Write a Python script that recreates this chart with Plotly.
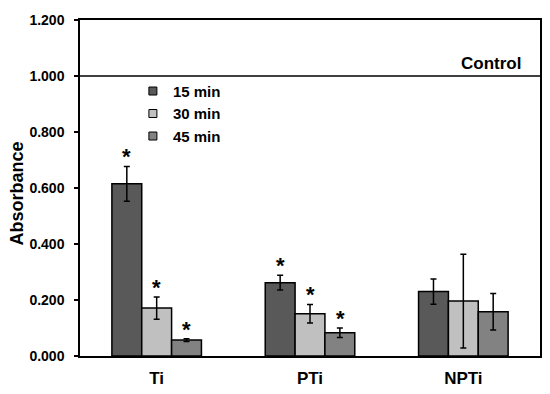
import plotly.graph_objects as go

categories = ["Ti", "PTi", "NPTi"]
series_names = ["15 min", "30 min", "45 min"]
values = {
    "15 min": [0.615, 0.262, 0.230],
    "30 min": [0.171, 0.151, 0.196],
    "45 min": [0.057, 0.083, 0.158],
}
errors = {
    "15 min": [0.062, 0.026, 0.045],
    "30 min": [0.040, 0.033, 0.167],
    "45 min": [0.005, 0.017, 0.065],
}
significant = {
    "15 min": [True, True, False],
    "30 min": [True, True, False],
    "45 min": [True, True, False],
}
colors = {"15 min": "#595959", "30 min": "#c0c0c0", "45 min": "#828282"}
control_value = 1.0
y_ticks = [0, 0.2, 0.4, 0.6, 0.8, 1.0, 1.2]
y_title = "Absorbance"

FONT = "Liberation Sans, Arial, sans-serif"

fig = go.Figure()
for name in series_names:
    fig.add_trace(go.Bar(
        x=categories, y=values[name], name=name, showlegend=False,
        marker=dict(color=colors[name], line=dict(color="black", width=1.5)),
        error_y=dict(type="data", array=errors[name], color="black",
                     thickness=1.5, width=3),
    ))
# legend entries (small squares like the reference)
for name in series_names:
    fig.add_trace(go.Scatter(
        x=[None], y=[None], mode="markers", name=name, legendgroup=name,
        marker=dict(symbol="square", size=8, color=colors[name],
                    line=dict(color="black", width=1)),
    ))

bar_px = 30
for i, name in enumerate(series_names):
    shift = (i - 1) * bar_px
    for j, cat in enumerate(categories):
        if significant[name][j]:
            fig.add_annotation(
                x=cat, y=values[name][j] + errors[name][j], xref="x", yref="y",
                text="<b>*</b>", showarrow=False, xshift=shift, yanchor="bottom",
                yshift=-5, font=dict(size=22, color="black", family=FONT),
            )

fig.add_shape(type="line", xref="paper", yref="y", x0=0, x1=1,
              y0=control_value, y1=control_value,
              line=dict(color="black", width=1.5))
fig.add_annotation(x=0.963, y=control_value, xref="paper", yref="y",
                   text="<b>Control</b>", showarrow=False, xanchor="right",
                   yanchor="bottom", yshift=1,
                   font=dict(size=17, color="black", family=FONT))

# y-axis title as rotated text left of the tick labels
fig.add_annotation(x=-0.136, y=0.485, xref="paper", yref="paper",
                   text=f"<b>{y_title}</b>", showarrow=False, textangle=-90,
                   xanchor="center", yanchor="middle",
                   font=dict(size=18, color="black", family=FONT))

# page body has an 8px margin: compensate so the plot box sits where the reference has it
fig.update_layout(
    width=542, height=386,
    margin=dict(l=72, r=10, t=12, b=38, autoexpand=False),
    paper_bgcolor="white", plot_bgcolor="white",
    barmode="group", bargap=0.416, bargroupgap=0,
    font=dict(family=FONT, color="black"),
    legend=dict(x=0.115, y=0.837, xanchor="left", yanchor="top",
                bgcolor="rgba(0,0,0,0)", tracegroupgap=0,
                font=dict(size=15, family=FONT, color="black", weight="bold"),
                itemwidth=30),
    xaxis=dict(showline=True, linecolor="black", linewidth=1.5, mirror=True,
               ticks="", ticklabelstandoff=6, automargin=False,
               tickfont=dict(size=17, family=FONT, weight="bold")),
    yaxis=dict(range=[0, 1.2], tickvals=y_ticks,
               ticktext=[f"{v:.3f}" for v in y_ticks], automargin=False,
               showline=True, linecolor="black", linewidth=1.5, mirror=True,
               ticks="outside", ticklen=4, tickwidth=1.5, tickcolor="black",
               ticklabelstandoff=7,
               showgrid=False, zeroline=False,
               tickfont=dict(size=14, family=FONT, weight="bold")),
    yaxis2=dict(range=[0, 1.2], tickvals=y_ticks, overlaying="y", side="left",
                anchor="x", showticklabels=False, showline=False,
                showgrid=False, zeroline=False, automargin=False,
                ticks="inside", ticklen=4, tickwidth=1.5, tickcolor="black"),
)

fig.write_html("out.html")
